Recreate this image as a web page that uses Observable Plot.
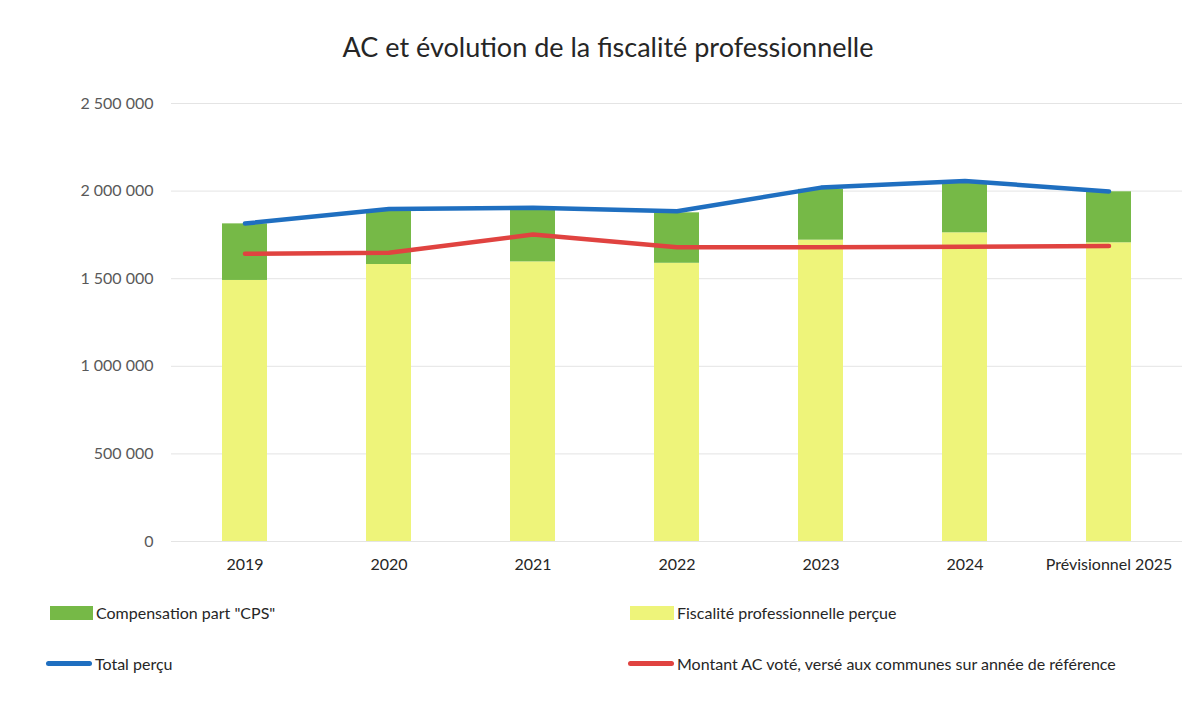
<!DOCTYPE html>
<html>
<head>
<meta charset="utf-8">
<script src="https://cdn.jsdelivr.net/npm/d3@7"></script>
<script src="https://cdn.jsdelivr.net/npm/@observablehq/plot@0.6"></script>
<style>
  html, body { margin: 0; padding: 0; background: #fff; }
  body { width: 1192px; height: 708px; position: relative; font-family: Lato, "Open Sans", sans-serif; overflow: hidden; }
  #title { position: absolute; left: 0; top: 30px; width: 1216px; text-align: center; font-size: 27px; color: #262626; }
  #chart { position: absolute; left: 0; top: 80px; }
  .leg { position: absolute; font-size: 16px; color: #262626; display: flex; align-items: center; white-space: nowrap; }
  .sw { display: inline-block; margin-right: 3px; }
</style>
</head>
<body>
<div id="title">AC et évolution de la fiscalité professionnelle</div>
<div id="chart"></div>
<div class="leg" style="left:50px; top:603px;"><span class="sw" style="width:43px;height:14px;background:#76b947"></span>Compensation part "CPS"</div>
<div class="leg" style="left:630px; top:603px;"><span class="sw" style="width:44px;height:14px;background:#eef47a"></span>Fiscalité professionnelle perçue</div>
<div class="leg" style="left:46px; top:654px;"><span class="sw" style="width:46px;height:5px;border-radius:3px;background:#1f6fc0"></span>Total perçu</div>
<div class="leg" style="left:628px; top:654px;"><span class="sw" style="width:46px;height:5px;border-radius:3px;background:#e04340"></span>Montant AC voté, versé aux communes sur année de référence</div>
<script>
const years = ["2019", "2020", "2021", "2022", "2023", "2024", "Prévisionnel 2025"];
const fiscalite = [1490000, 1581000, 1596000, 1588000, 1720000, 1762000, 1705000];
const cps = [323000, 309000, 294000, 288000, 290000, 286000, 291000];
const total = [1815000, 1898000, 1905000, 1885000, 2020000, 2058000, 1998000];
const montantAC = [1642000, 1648000, 1752000, 1680000, 1680000, 1683000, 1686000];
const yTicks = [0, 500000, 1000000, 1500000, 2000000, 2500000];

const bars = years.flatMap((y, i) => [
  {year: y, serie: "Fiscalité professionnelle perçue", value: fiscalite[i]},
  {year: y, serie: "Compensation part \"CPS\"", value: cps[i]}
]);
const totalRows = years.map((y, i) => ({year: y, value: total[i]}));
const acRows = years.map((y, i) => ({year: y, value: montantAC[i]}));

const fmt = d => d3.format(",")(d).replace(/,/g, "\u202F");

const chart = Plot.plot({
  width: 1192,
  height: 505,
  marginTop: 23,
  marginBottom: 44,
  marginLeft: 171,
  marginRight: 10,
  style: {fontFamily: "Lato, 'Open Sans', sans-serif", fontSize: "16px", background: "#fff"},
  x: {domain: years, paddingInner: 0.69, paddingOuter: 0.345, label: null, tickSize: 0, tickPadding: 17},
  y: {domain: [0, 2500000], ticks: yTicks, tickFormat: fmt, label: null, tickSize: 0, tickPadding: 18},
  color: {domain: ["Fiscalité professionnelle perçue", "Compensation part \"CPS\""], range: ["#eef47a", "#76b947"]},
  marks: [
    Plot.ruleY(yTicks, {stroke: "#e4e4e4", strokeWidth: 1}),
    Plot.barY(bars, {x: "year", y: "value", fill: "serie", order: ["Fiscalité professionnelle perçue", "Compensation part \"CPS\""]}),
    Plot.line(acRows, {x: "year", y: "value", stroke: "#e04340", strokeWidth: 4.5, strokeLinecap: "round", strokeLinejoin: "round"}),
    Plot.line(totalRows, {x: "year", y: "value", stroke: "#1f6fc0", strokeWidth: 4.5, strokeLinecap: "round", strokeLinejoin: "round"})
  ]
});
d3.select(chart).selectAll("g[aria-label='y-axis tick label'] text, g[aria-label='y-axis tick label']").attr("fill", "#595959");
d3.select(chart).selectAll("g[aria-label='x-axis tick label']").attr("fill", "#262626");
document.getElementById("chart").appendChild(chart);
</script>
</body>
</html>
